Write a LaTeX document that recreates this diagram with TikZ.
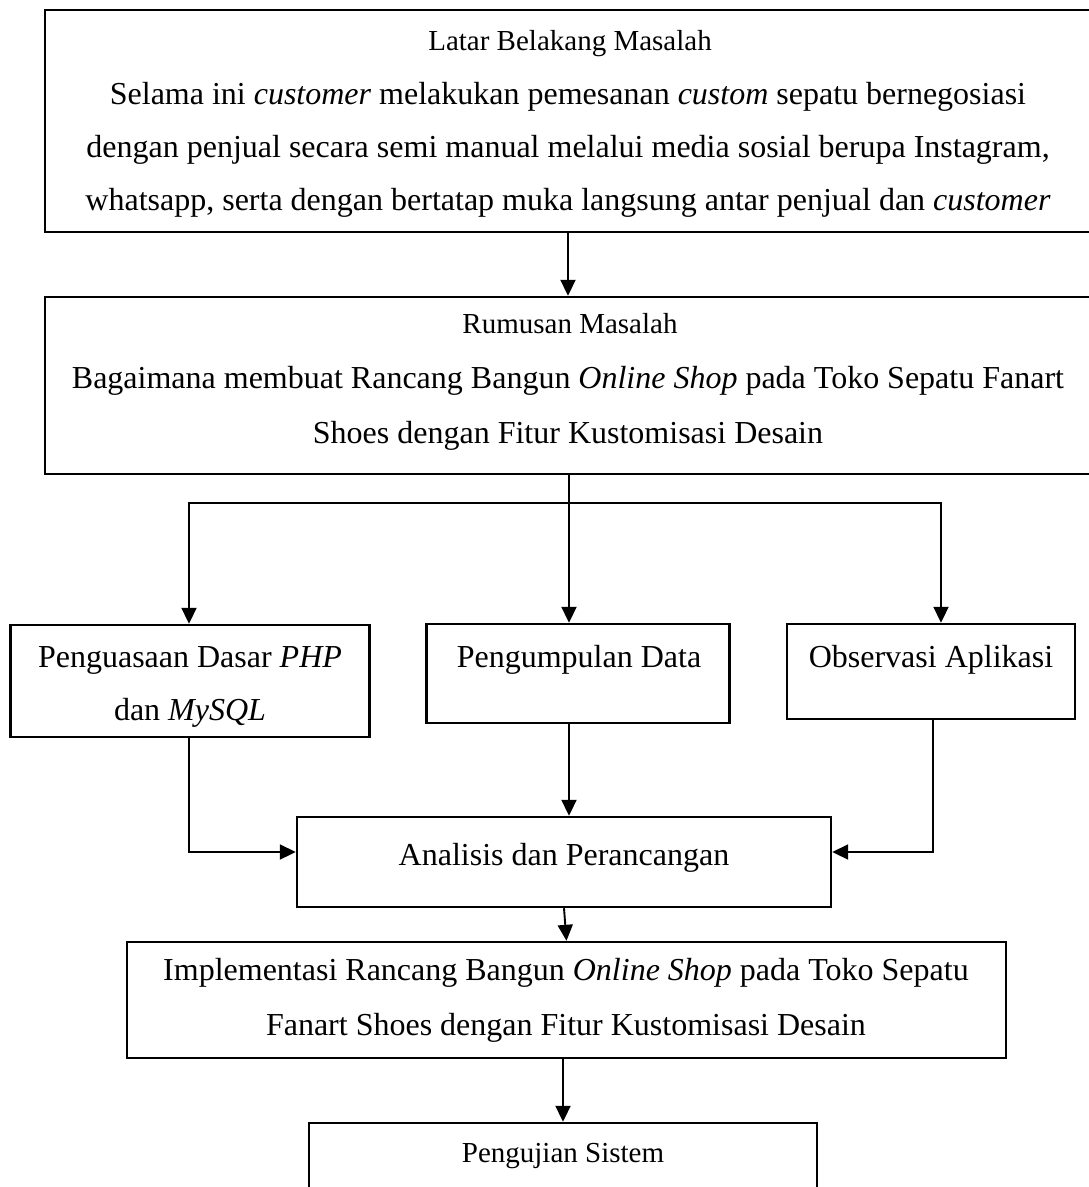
\documentclass[tikz,border=0pt]{standalone}
\usepackage{fontspec}
\setmainfont{Liberation Serif}
\usetikzlibrary{arrows.meta,calc}
\begin{document}
\begin{tikzpicture}[x=1pt,y=-1pt,
  box/.style={draw, line width=2.4pt, rectangle, inner sep=0pt},
  conn/.style={line width=1.9pt, -{Triangle[length=16pt,width=15pt]}},
  body/.style={anchor=base, font=\fontsize{32}{38}\selectfont, inner sep=0pt},
  ttl/.style={anchor=base, font=\fontsize{29}{34}\selectfont, inner sep=0pt}]
\useasboundingbox (0,0) rectangle (1089,1187);

% boxes
\node[box, minimum width=1046pt, minimum height=222pt] (lat) at (568,121) {};
\node[box, minimum width=1046pt, minimum height=177pt] (rum) at (568,385.5) {};
\node[box, minimum width=359pt, minimum height=112pt] (pen) at (190,681) {};
\node[box, minimum width=303pt, minimum height=99pt] (pgd) at (578,673.5) {};
\node[box, minimum width=288pt, minimum height=95pt] (obs) at (931,671.5) {};
\node[box, minimum width=534pt, minimum height=90pt] (ana) at (564,862) {};
\node[box, minimum width=879pt, minimum height=116pt] (imp) at (566.5,1000) {};
\node[box, minimum width=508pt, minimum height=90pt] (pgs) at (563,1168) {};

% texts
\node[ttl] (t1) at (570,50) {Latar Belakang Masalah};
\node[body] (t2) at (568,104) {Selama ini \textit{customer} melakukan pemesanan \textit{custom} sepatu bernegosiasi};
\node[body] (t3) at (568,157) {dengan penjual secara semi manual melalui media sosial berupa Instagram,};
\node[body] (t4) at (568,210) {whatsapp, serta dengan bertatap muka langsung antar penjual dan \textit{customer}};

\node[ttl] (r1) at (570,333) {Rumusan Masalah};
\node[body] (r2) at (568,388) {Bagaimana membuat Rancang Bangun \textit{Online Shop} pada Toko Sepatu Fanart};
\node[body] (r3) at (568,443) {Shoes dengan Fitur Kustomisasi Desain};

\node[body] (p1) at (190,667) {Penguasaan Dasar \textit{PHP}};
\node[body] (p2) at (190,720) {dan \textit{MySQL}};
\node[body] (g1) at (579,667) {Pengumpulan Data};
\node[body] (o1) at (931,667) {Observasi Aplikasi};
\node[body] (a1) at (564,865) {Analisis dan Perancangan};
\node[body] (i1) at (566,980) {Implementasi Rancang Bangun \textit{Online Shop} pada Toko Sepatu};
\node[body] (i2) at (566,1035) {Fanart Shoes dengan Fitur Kustomisasi Desain};
\node[ttl] (s1) at (563,1162) {Pengujian Sistem};

% connectors
\coordinate (split) at (569,503);
\draw[conn] (lat.south) -- (rum.north);
\draw[line width=1.9pt] (rum.south -| split) -- (split);
\draw[conn] (split) -- (split |- pgd.north);
\draw[conn] (split) -| ([xshift=-1pt]pen.north);
\draw[conn] (split) -| ([xshift=10pt]obs.north);
\draw[conn] ([xshift=-1pt]pen.south) |- ([yshift=10pt]ana.west);
\draw[conn] ([xshift=2pt]obs.south) |- ([yshift=10pt]ana.east);
\draw[conn] (pgd.south -| split) -- (ana.north -| split);
\draw[conn] (ana.south) -- (imp.north);
\draw[conn] (imp.south -| pgs.north) -- (pgs.north);
\end{tikzpicture}
\end{document}
